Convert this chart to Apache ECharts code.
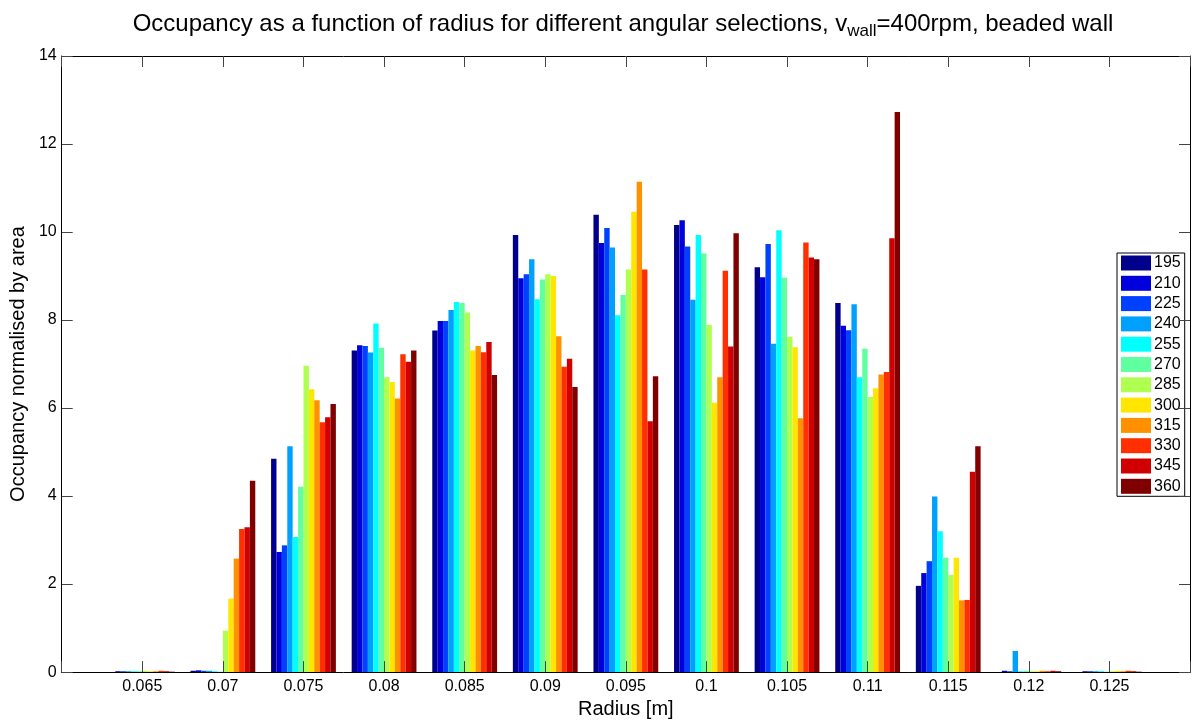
<!DOCTYPE html>
<html>
<head>
<meta charset="utf-8">
<title>Occupancy vs radius</title>
<script src="https://cdn.jsdelivr.net/npm/echarts@6/dist/echarts.min.js"></script>
<style>
  html, body { margin: 0; padding: 0; background: #ffffff; }
  #chart { width: 1193px; height: 724px; }
</style>
</head>
<body>
<div id="chart"></div>
<script>
// Radial bin centres [m]
const radii = [0.065, 0.07, 0.075, 0.08, 0.085, 0.09, 0.095, 0.1, 0.105, 0.11, 0.115, 0.12, 0.125];

// Angular selections (legend entries)
const angles = ['195', '210', '225', '240', '255', '270', '285', '300', '315', '330', '345', '360'];

// Occupancy normalised by area, one array per angular selection (ordered as radii)
const occ195 = [0.00, 0.03, 4.85, 7.31, 7.76, 9.93, 10.39, 10.16, 9.20, 8.39, 1.96, 0.00, 0.00];
const occ210 = [0.02, 0.04, 2.73, 7.43, 7.98, 8.95, 9.75, 10.27, 8.97, 7.87, 2.25, 0.03, 0.02];
const occ225 = [0.02, 0.03, 2.88, 7.41, 7.98, 9.04, 10.09, 9.67, 9.73, 7.77, 2.52, 0.02, 0.02];
const occ240 = [0.02, 0.03, 5.13, 7.26, 8.23, 9.38, 9.65, 8.46, 7.46, 8.36, 3.99, 0.48, 0.02];
const occ255 = [0.02, 0.02, 3.07, 7.92, 8.41, 8.47, 8.11, 9.93, 10.04, 6.70, 3.20, 0.02, 0.02];
const occ270 = [0.02, 0.01, 4.21, 7.37, 8.39, 8.92, 8.57, 9.51, 8.96, 7.35, 2.60, 0.03, 0.01];
const occ285 = [0.03, 0.94, 6.96, 6.70, 8.17, 9.04, 9.15, 7.89, 7.62, 6.25, 2.21, 0.02, 0.02];
const occ300 = [0.02, 1.67, 6.43, 6.59, 7.31, 9.00, 10.46, 6.12, 7.38, 6.45, 2.60, 0.02, 0.03];
const occ315 = [0.02, 2.58, 6.18, 6.22, 7.41, 7.63, 11.14, 6.70, 5.77, 6.76, 1.63, 0.03, 0.02];
const occ330 = [0.03, 3.25, 5.68, 7.22, 7.27, 6.94, 9.15, 9.12, 9.76, 6.82, 1.64, 0.02, 0.03];
const occ345 = [0.02, 3.29, 5.79, 7.05, 7.50, 7.12, 5.70, 7.40, 9.42, 9.86, 4.55, 0.03, 0.02];
const occ360 = [0.01, 4.35, 6.09, 7.31, 6.75, 6.48, 6.72, 9.97, 9.38, 12.73, 5.13, 0.02, 0.01];

const occupancy = [occ195, occ210, occ225, occ240, occ255, occ270,
                   occ285, occ300, occ315, occ330, occ345, occ360];

// Jet-style colour ramp, dark blue through dark red
const colours = ['#00008c', '#0000dc', '#0040ff', '#00a0ff', '#00ffff', '#60ffa0',
                 '#afff50', '#ffe600', '#ff9000', '#ff3000', '#d00000', '#800000'];

const FONT = '"Liberation Sans", Arial, Helvetica, sans-serif';
const chart = echarts.init(document.getElementById('chart'), null, { renderer: 'canvas' });

const fmtRadius = function (v) {
  if (v < 0.0625 || v > 0.1275) return '';
  return String(parseFloat(v.toFixed(3)));
};

const series = angles.map(function (name, i) {
  return {
    name: name,
    type: 'bar',
    xAxisIndex: 0,
    yAxisIndex: 0,
    barWidth: 5.4,
    barGap: '0%',
    itemStyle: { color: colours[i] },
    emphasis: { disabled: true },
    data: radii.map(function (r, k) { return [r, occupancy[i][k]]; })
  };
});

const tickStyle = { inside: true, length: 11, lineStyle: { color: '#444', width: 1 } };
const lineStyle = { show: true, onZero: false, lineStyle: { color: '#000', width: 1 } };

chart.setOption({
  animation: false,
  backgroundColor: '#ffffff',
  color: colours,
  textStyle: { fontFamily: FONT },
  grid: { left: 58, right: 3, top: 56, bottom: 41, containLabel: false },
  legend: {
    orient: 'vertical',
    left: 1117,
    top: 253,
    data: angles,
    itemWidth: 30,
    itemHeight: 15,
    itemGap: 4.3,
    padding: [2, 4, 2, 4],
    borderColor: '#000',
    borderWidth: 1,
    backgroundColor: '#fff',
    icon: 'rect',
    textStyle: { fontSize: 16, color: '#000', fontFamily: FONT, padding: [0, 0, 0, -2] }
  },
  graphic: [{
    type: 'text',
    x: 623,
    y: 12,
    style: {
      text: '{m|Occupancy as a function of radius for different angular selections, v}{s|wall}{m|=400rpm, beaded wall}',
      align: 'center',
      verticalAlign: 'top',
      rich: {
        m: { fontSize: 24, fontFamily: FONT, fill: '#000', lineHeight: 28, verticalAlign: 'top' },
        s: { fontSize: 17, fontFamily: FONT, fill: '#000', lineHeight: 28, verticalAlign: 'top', padding: [11, 0, 0, 0] }
      }
    }
  }],
  xAxis: [{
    type: 'value',
    position: 'bottom',
    min: 0.06,
    max: 0.13,
    interval: 0.005,
    z: 5,
    name: 'Radius [m]',
    nameLocation: 'middle',
    nameGap: 21,
    nameTextStyle: { fontSize: 20, color: '#000', fontFamily: FONT },
    axisLine: lineStyle,
    axisTick: tickStyle,
    axisLabel: { formatter: fmtRadius, fontSize: 16, color: '#000', margin: 6, fontFamily: FONT },
    splitLine: { show: false }
  }, {
    type: 'value',
    position: 'top',
    min: 0.06,
    max: 0.13,
    interval: 0.005,
    z: 5,
    axisLine: lineStyle,
    axisTick: tickStyle,
    axisLabel: { show: false },
    splitLine: { show: false }
  }],
  yAxis: [{
    type: 'value',
    position: 'left',
    min: 0,
    max: 14,
    interval: 2,
    z: 5,
    name: 'Occupancy normalised by area',
    nameLocation: 'middle',
    nameGap: 25,
    nameTextStyle: { fontSize: 20, color: '#000', fontFamily: FONT },
    axisLine: lineStyle,
    axisTick: tickStyle,
    axisLabel: { fontSize: 16, color: '#000', margin: 5, fontFamily: FONT },
    splitLine: { show: false }
  }, {
    type: 'value',
    position: 'right',
    min: 0,
    max: 14,
    interval: 2,
    z: 5,
    axisLine: lineStyle,
    axisTick: tickStyle,
    axisLabel: { show: false },
    splitLine: { show: false }
  }],
  series: series
});
</script>
</body>
</html>
